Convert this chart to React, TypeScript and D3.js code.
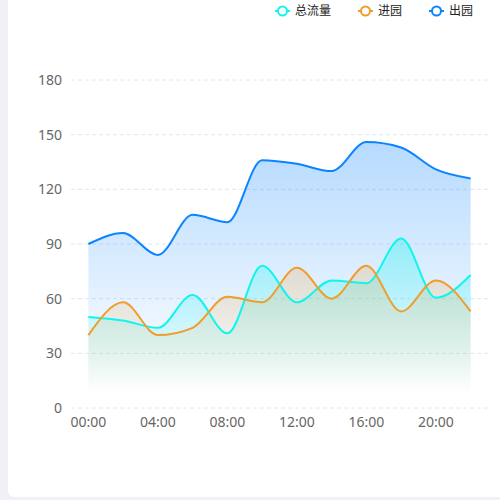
import React from "react";
import * as d3 from "d3";

// hourly samples, every 2 hours
const hours = ["00:00", "02:00", "04:00", "06:00", "08:00", "10:00", "12:00", "14:00", "16:00", "18:00", "20:00", "22:00"];
const totalFlow = [50, 48, 44, 62, 41, 78, 58, 70, 68.5, 93, 60.5, 73];
const entering = [40, 58, 40, 44, 61, 58, 77, 60, 78, 53, 70, 53];
const leaving = [90, 96, 84, 106, 102, 136, 134, 130, 146, 143, 131, 126];
const yTicks = [0, 30, 60, 90, 120, 150, 180];

const seriesNames = ["总流量", "进园", "出园"];
const seriesColors = ["#0ff5ee", "#f09d2a", "#0a84ff"];
const areaAlpha = [0.32, 0.22, 0.3];

const width = 500;
const height = 500;
const margin = { top: 80, right: 12, bottom: 92, left: 71 };

const App: React.FC = () => {
  const x = d3
    .scaleBand<string>()
    .domain(hours)
    .range([margin.left, width - margin.right]);
  const y = d3
    .scaleLinear()
    .domain([0, 180])
    .range([height - margin.bottom, margin.top]);

  const px = (i: number) => (x(hours[i]) as number) + x.bandwidth() / 2;

  const line = d3
    .line<number>()
    .x((_, i) => px(i))
    .y((d) => y(d))
    .curve(d3.curveMonotoneX);
  const area = d3
    .area<number>()
    .x((_, i) => px(i))
    .y0(y(0))
    .y1((d) => y(d))
    .curve(d3.curveMonotoneX);

  const allSeries = [totalFlow, entering, leaving];
  // draw order: blue at back, then cyan, then orange
  const drawOrder = [2, 0, 1];

  // legend layout
  const legendStart = 275;
  const legendGap = 27;
  let lx = legendStart;
  const legendItems = seriesNames.map((name, i) => {
    const item = { name, color: seriesColors[i], x: lx };
    lx += 20 + name.length * 12 + legendGap;
    return item;
  });

  const font = "'Noto Sans', 'Noto Sans CJK SC', sans-serif";

  return (
    <div style={{ position: "absolute", left: 0, top: 0 }}>
      <svg width={width} height={height} style={{ display: "block" }}>
        <rect x={0} y={0} width={width} height={height} fill="#f0f1f7" />
        <rect x={8} y={-10} width={width + 2} height={507} rx={6} fill="#ffffff" />
        <defs>
          {seriesColors.map((c, i) => {
            const rgb = d3.rgb(c);
            return (
              <linearGradient key={i} id={`grad${i}`} x1="0" y1="0" x2="0" y2="1">
                <stop offset="0" stopColor={`rgb(${rgb.r},${rgb.g},${rgb.b})`} stopOpacity={areaAlpha[i]} />
                <stop offset="0.92" stopColor={`rgb(${rgb.r},${rgb.g},${rgb.b})`} stopOpacity={0} />
              </linearGradient>
            );
          })}
        </defs>

        {/* grid + y labels */}
        {yTicks.map((t) => (
          <g key={t}>
            <line
              x1={margin.left}
              x2={width - margin.right}
              y1={y(t)}
              y2={y(t)}
              stroke="#e0e6f1"
              strokeDasharray="4,3"
            />
            <text
              x={margin.left - 9}
              y={y(t)}
              dy="0.35em"
              textAnchor="end"
              fontSize={14}
              fontFamily={font}
              fill="#666"
            >
              {t}
            </text>
          </g>
        ))}

        {/* x labels */}
        {hours.map((h, i) =>
          i % 2 === 0 ? (
            <text
              key={h}
              x={px(i)}
              y={y(0) + 14}
              dy="0.35em"
              textAnchor="middle"
              fontSize={14}
              fontFamily={font}
              fill="#666"
            >
              {h}
            </text>
          ) : null
        )}

        {/* areas */}
        {drawOrder.map((s) => (
          <path key={`a${s}`} d={area(allSeries[s]) as string} fill={`url(#grad${s})`} />
        ))}

        {/* lines */}
        {drawOrder.map((s) => (
          <path
            key={`l${s}`}
            d={line(allSeries[s]) as string}
            fill="none"
            stroke={seriesColors[s]}
            strokeWidth={2}
          />
        ))}

        {/* legend */}
        {legendItems.map((it) => (
          <g key={it.name} transform={`translate(${it.x},11)`}>
            <line x1={0} x2={15} y1={0} y2={0} stroke={it.color} strokeWidth={2} />
            <circle cx={7.5} cy={0} r={4.5} fill="#ffffff" stroke={it.color} strokeWidth={2} />
            <text x={20} y={0} dy="0.35em" fontSize={12} fontFamily={font} fill="#222">
              {it.name}
            </text>
          </g>
        ))}
      </svg>
    </div>
  );
};

export default App;
